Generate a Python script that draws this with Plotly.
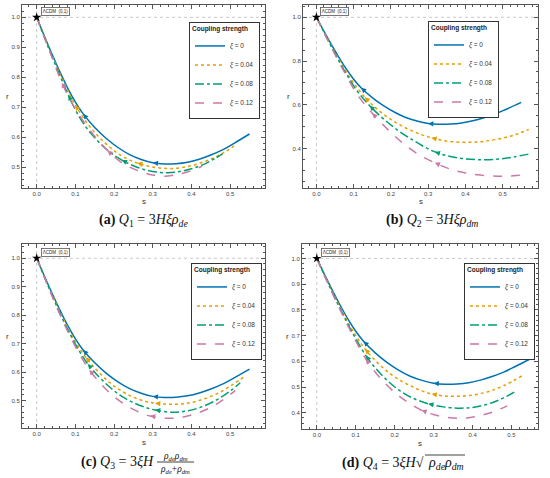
import plotly.graph_objects as go

# ------------------------------------------------------------------ data
# statefinder trajectories {s, r}
xi_names = ["<i>ξ</i> = 0", "<i>ξ</i> = 0.04", "<i>ξ</i> = 0.08", "<i>ξ</i> = 0.12"]
colors = ["#0072B2", "#E69F00", "#009E73", "#CC79A7"]
dashes = ["solid", "dot", "dashdot", "dash"]

# xi = 0 is the same curve in every panel
s_xi0 = [0, 0.02, 0.04, 0.06, 0.08, 0.10, 0.12, 0.15, 0.18, 0.21, 0.24, 0.27, 0.30, 0.33, 0.36, 0.39, 0.42, 0.45, 0.48, 0.51, 0.55]
r_xi0 = [1.0, 0.937, 0.876, 0.818, 0.764, 0.717, 0.678, 0.633, 0.596, 0.566, 0.542, 0.526, 0.515, 0.511, 0.512, 0.517, 0.527, 0.541, 0.558, 0.580, 0.611]

# (a) Q1
s_q1_004 = [0, 0.02, 0.04, 0.06, 0.08, 0.10, 0.13, 0.16, 0.19, 0.22, 0.26, 0.30, 0.34, 0.38, 0.42, 0.46, 0.49, 0.517]
r_q1_004 = [1.0, 0.935, 0.872, 0.812, 0.757, 0.707, 0.648, 0.602, 0.566, 0.538, 0.514, 0.501, 0.496, 0.500, 0.513, 0.533, 0.554, 0.577]
s_q1_008 = [0, 0.02, 0.04, 0.06, 0.082, 0.11, 0.14, 0.17, 0.20, 0.22, 0.25, 0.28, 0.31, 0.34, 0.37, 0.40, 0.43, 0.46, 0.48]
r_q1_008 = [1.0, 0.933, 0.868, 0.806, 0.740, 0.668, 0.613, 0.572, 0.540, 0.524, 0.505, 0.492, 0.484, 0.482, 0.486, 0.495, 0.509, 0.529, 0.545]
s_q1_012 = [0, 0.02, 0.04, 0.065, 0.09, 0.12, 0.15, 0.183, 0.21, 0.24, 0.27, 0.30, 0.33, 0.36, 0.39, 0.427]
r_q1_012 = [1.0, 0.932, 0.865, 0.782, 0.716, 0.655, 0.603, 0.556, 0.525, 0.501, 0.485, 0.474, 0.470, 0.475, 0.485, 0.503]

# (b) Q2
s_q2_004 = [0, 0.02, 0.04, 0.06, 0.08, 0.10, 0.13, 0.16, 0.20, 0.24, 0.28, 0.309, 0.34, 0.385, 0.43, 0.47, 0.51, 0.54, 0.57]
r_q2_004 = [1.0, 0.935, 0.870, 0.809, 0.752, 0.700, 0.635, 0.585, 0.533, 0.494, 0.465, 0.449, 0.437, 0.429, 0.430, 0.438, 0.452, 0.467, 0.487]
s_q2_008 = [0, 0.02, 0.04, 0.06, 0.08, 0.11, 0.143, 0.18, 0.22, 0.26, 0.29, 0.318, 0.35, 0.39, 0.443, 0.49, 0.53, 0.573]
r_q2_008 = [1.0, 0.933, 0.866, 0.802, 0.742, 0.662, 0.596, 0.536, 0.482, 0.438, 0.408, 0.385, 0.368, 0.355, 0.349, 0.352, 0.362, 0.376]
s_q2_012 = [0, 0.02, 0.04, 0.06, 0.08, 0.11, 0.15, 0.19, 0.23, 0.27, 0.318, 0.36, 0.40, 0.44, 0.497, 0.53, 0.56]
r_q2_012 = [1.0, 0.931, 0.863, 0.797, 0.734, 0.646, 0.562, 0.490, 0.428, 0.378, 0.335, 0.306, 0.289, 0.279, 0.274, 0.276, 0.281]

# (c) Q3
s_q3_004 = [0, 0.02, 0.04, 0.06, 0.08, 0.10, 0.127, 0.16, 0.19, 0.22, 0.25, 0.28, 0.306, 0.35, 0.39, 0.43, 0.47, 0.505, 0.539]
r_q3_004 = [1.0, 0.935, 0.872, 0.812, 0.757, 0.707, 0.652, 0.600, 0.562, 0.533, 0.512, 0.498, 0.491, 0.487, 0.491, 0.505, 0.527, 0.555, 0.587]
s_q3_008 = [0, 0.02, 0.04, 0.06, 0.08, 0.105, 0.132, 0.16, 0.19, 0.22, 0.25, 0.28, 0.306, 0.353, 0.39, 0.42, 0.45, 0.48, 0.505, 0.526]
r_q3_008 = [1.0, 0.934, 0.869, 0.807, 0.750, 0.686, 0.629, 0.585, 0.546, 0.515, 0.493, 0.477, 0.467, 0.459, 0.464, 0.475, 0.492, 0.515, 0.539, 0.563]
s_q3_012 = [0, 0.02, 0.04, 0.06, 0.085, 0.11, 0.136, 0.165, 0.195, 0.225, 0.255, 0.293, 0.34, 0.38, 0.41, 0.44, 0.47, 0.513]
r_q3_012 = [1.0, 0.933, 0.866, 0.803, 0.730, 0.665, 0.608, 0.560, 0.520, 0.489, 0.466, 0.446, 0.438, 0.443, 0.454, 0.470, 0.492, 0.535]

# (d) Q4
s_q4_004 = [0, 0.02, 0.04, 0.06, 0.08, 0.10, 0.124, 0.155, 0.185, 0.215, 0.245, 0.27, 0.295, 0.325, 0.359, 0.40, 0.44, 0.48, 0.53]
r_q4_004 = [1.0, 0.935, 0.871, 0.810, 0.753, 0.700, 0.648, 0.596, 0.556, 0.525, 0.502, 0.485, 0.473, 0.466, 0.464, 0.469, 0.482, 0.505, 0.546]
s_q4_008 = [0, 0.02, 0.04, 0.06, 0.08, 0.10, 0.126, 0.155, 0.185, 0.215, 0.245, 0.286, 0.325, 0.368, 0.40, 0.43, 0.46, 0.49, 0.513]
r_q4_008 = [1.0, 0.933, 0.867, 0.804, 0.744, 0.688, 0.622, 0.566, 0.520, 0.484, 0.458, 0.435, 0.423, 0.418, 0.421, 0.430, 0.445, 0.466, 0.486]
s_q4_012 = [0, 0.02, 0.04, 0.06, 0.08, 0.10, 0.126, 0.155, 0.185, 0.215, 0.24, 0.269, 0.30, 0.33, 0.363, 0.39, 0.42, 0.45, 0.489]
r_q4_012 = [1.0, 0.932, 0.865, 0.800, 0.738, 0.679, 0.609, 0.549, 0.500, 0.461, 0.435, 0.410, 0.393, 0.383, 0.379, 0.381, 0.389, 0.402, 0.427]

# index of the points that carry a direction arrow (per panel, per curve)
arrow_idx = [
    [(6, 12), (5, 10), (4, 9), (3, 7)],
    [(6, 12), (6, 11), (6, 11), (6, 10)],
    [(6, 12), (6, 12), (6, 12), (6, 11)],
    [(6, 12), (6, 12), (6, 11), (6, 11)],
]

panels = [
    [(s_xi0, r_xi0), (s_q1_004, r_q1_004), (s_q1_008, r_q1_008), (s_q1_012, r_q1_012)],
    [(s_xi0, r_xi0), (s_q2_004, r_q2_004), (s_q2_008, r_q2_008), (s_q2_012, r_q2_012)],
    [(s_xi0, r_xi0), (s_q3_004, r_q3_004), (s_q3_008, r_q3_008), (s_q3_012, r_q3_012)],
    [(s_xi0, r_xi0), (s_q4_004, r_q4_004), (s_q4_008, r_q4_008), (s_q4_012, r_q4_012)],
]

x_ranges = [[-0.038, 0.59], [-0.036, 0.595], [-0.038, 0.59], [-0.038, 0.568]]
y_ranges = [[0.431, 1.041], [0.22, 1.056], [0.404, 1.05], [0.337, 1.056]]
y_dticks = [0.1, 0.2, 0.1, 0.1]

# ------------------------------------------------------------------ layout
W, H = 550, 478
# plot frames in pixels: left, right, top, bottom
frames = [(22, 265, 5, 188), (303, 538, 5, 188), (22, 265, 244, 428), (302, 538, 244, 429)]
legend_pos = [(260, 22), (499, 21), (262, 263), (535, 263)]

fig = go.Figure()
sans = "Liberation Sans, Arial"
axis_font = dict(family=sans, size=6, color="#444")
label_font = dict(family=sans, size=8, color="#333")

for p in range(4):
    xa = "x" if p == 0 else "x%d" % (p + 1)
    ya = "y" if p == 0 else "y%d" % (p + 1)
    lg = "legend" if p == 0 else "legend%d" % (p + 1)

    for k, (s, r) in enumerate(panels[p]):
        fig.add_trace(go.Scatter(
            x=s, y=r, mode="lines", name=xi_names[k],
            line=dict(color=colors[k], dash=dashes[k], width=1.5, shape="spline"),
            xaxis=xa, yaxis=ya, legend=lg, hoverinfo="skip"))
        for i in arrow_idx[p][k]:
            fig.add_annotation(
                x=s[i], y=r[i], xref=xa, yref=ya,
                ax=s[i] + 0.3 * (s[i + 1] - s[i]), ay=r[i] + 0.3 * (r[i + 1] - r[i]),
                axref=xa, ayref=ya, text="", showarrow=True,
                arrowhead=2, arrowsize=0.8, arrowwidth=1.3, arrowcolor=colors[k])

    # LCDM fixed point
    fig.add_trace(go.Scatter(
        x=[0], y=[1], mode="markers", showlegend=False, hoverinfo="skip",
        marker=dict(symbol="star", size=7, color="black"),
        xaxis=xa, yaxis=ya))
    fig.add_annotation(
        x=0, y=1, xref=xa, yref=ya, text="ΛCDM  (0,1)", showarrow=False,
        xanchor="left", yanchor="bottom", xshift=4, yshift=1,
        font=dict(family=sans, size=4.5, color="#222"),
        bgcolor="white", bordercolor="#555", borderwidth=0.8, borderpad=1)

    # dotted reference lines through the fixed point
    fig.add_shape(type="line", xref=xa, yref=ya + " domain", x0=0, x1=0, y0=0, y1=1,
                  line=dict(color="#c8c8c8", width=1, dash="dot"), layer="below")
    fig.add_shape(type="line", xref=xa + " domain", yref=ya, x0=0, x1=1, y0=1, y1=1,
                  line=dict(color="#c8c8c8", width=1, dash="dot"), layer="below")

    L, R, T, B = frames[p]
    # axis labels
    fig.add_annotation(x=(L + R) / 2 / W, y=1 - (B + 14) / H, xref="paper", yref="paper",
                       text="s", showarrow=False, xanchor="center", yanchor="middle", font=label_font)
    fig.add_annotation(x=(L - 15) / W, y=1 - (T + B) / 2 / H, xref="paper", yref="paper",
                       text="r", showarrow=False, xanchor="center", yanchor="middle", font=label_font)

    common = dict(showline=True, linecolor="#555", linewidth=1, mirror="ticks",
                  ticks="inside", ticklen=4, tickcolor="#555", tickwidth=0.8,
                  showgrid=False, zeroline=False, tickfont=axis_font,
                  tickformat=".1f",
                  minor=dict(ticks="inside", ticklen=2, tickcolor="#555", nticks=5))
    fig.update_layout(**{
        ("xaxis" if p == 0 else "xaxis%d" % (p + 1)): dict(
            domain=[L / W, R / W], anchor=ya, range=x_ranges[p], dtick=0.1, **common),
        ("yaxis" if p == 0 else "yaxis%d" % (p + 1)): dict(
            domain=[1 - B / H, 1 - T / H], anchor=xa, range=y_ranges[p], dtick=y_dticks[p], **common),
        lg: dict(
            x=legend_pos[p][0] / W, y=1 - legend_pos[p][1] / H, xanchor="right", yanchor="top",
            title=dict(text="<b>Coupling strength</b>", font=dict(size=6.5, color="#222")),
            font=dict(family=sans, size=6.5, color="#333"),
            bgcolor="white", bordercolor="#333", borderwidth=1, itemwidth=30),
    })

# ------------------------------------------------------------------ captions
serif = "Liberation Serif, DejaVu Serif"
cap_font = dict(family=serif, size=14, color="#111")


def caption(x, y, text, anchor="center", font=cap_font):
    fig.add_annotation(x=x / W, y=1 - y / H, xref="paper", yref="paper", showarrow=False,
                       xanchor=anchor, yanchor="middle", text=text, font=font)


caption(143, 220, "<b>(a)</b> <i>Q</i><sub>1</sub> = 3<i>Hξρ<sub>de</sub></i>")
caption(432, 220, "<b>(b)</b> <i>Q</i><sub>2</sub> = 3<i>Hξρ<sub>dm</sub></i>")

# (c) with a stacked fraction
frac_font = dict(family=serif, size=9.5, color="#111")
caption(156, 462, "<b>(c)</b> <i>Q</i><sub>3</sub> = 3<i>ξH</i>", anchor="right")
caption(175, 456, "<i>ρ<sub>de</sub>ρ<sub>dm</sub></i>", font=frac_font)
caption(175, 469, "<i>ρ<sub>de</sub></i>+<i>ρ<sub>dm</sub></i>", font=frac_font)
fig.add_shape(type="line", xref="paper", yref="paper", x0=157 / W, x1=194 / W,
              y0=1 - 462 / H, y1=1 - 462 / H, line=dict(color="#111", width=0.8))

# (d) with a square root
caption(426, 463, "<b>(d)</b> <i>Q</i><sub>4</sub> = 3<i>ξH</i>√", anchor="right")
caption(426, 463, "<i>ρ<sub>de</sub>ρ<sub>dm</sub></i>", anchor="left")
fig.add_shape(type="line", xref="paper", yref="paper", x0=425 / W, x1=465 / W,
              y0=1 - 455 / H, y1=1 - 455 / H, line=dict(color="#111", width=0.8))

fig.update_layout(width=W, height=H, margin=dict(l=0, r=0, t=0, b=0),
                  paper_bgcolor="white", plot_bgcolor="white")

# the page's default body margin would push the figure 8px off the window
fig.write_html("out.html", config={"displayModeBar": False},
               post_script="document.body.style.margin = '0';")
